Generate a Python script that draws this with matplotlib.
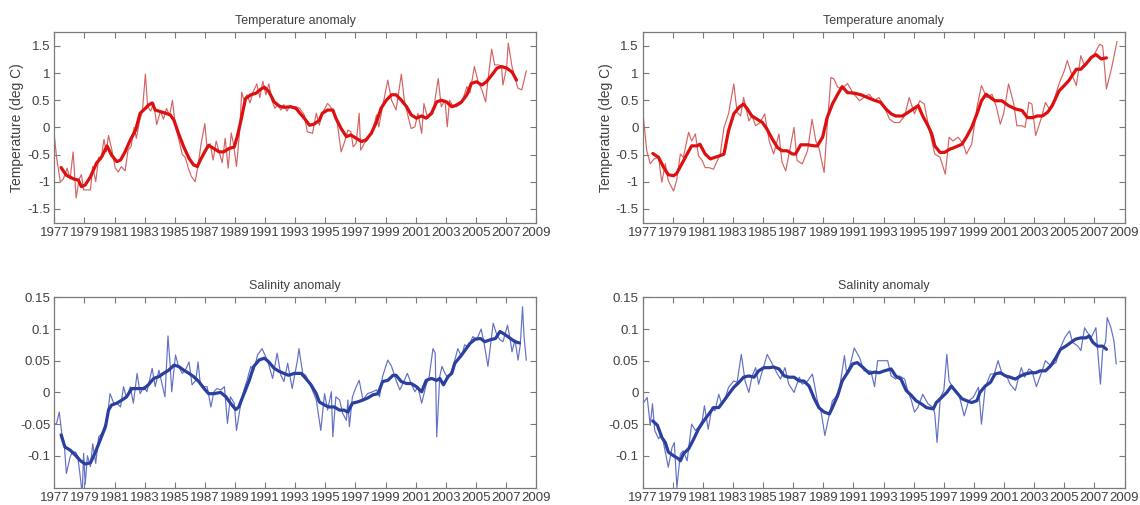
import matplotlib
matplotlib.use("Agg")
import matplotlib.pyplot as plt

plt.rcParams['font.family'] = ['Liberation Sans', 'DejaVu Sans']

# ---------------- data ----------------
year_ticks = list(range(1977, 2010, 2))
temp_ticks = [-1.5, -1.0, -0.5, 0.0, 0.5, 1.0, 1.5]
temp_tick_labels = ['-1.5', '-1', '-0.5', '0', '0.5', '1', '1.5']
sal_ticks = [-0.1, -0.05, 0.0, 0.05, 0.1, 0.15]
sal_tick_labels = ['-0.1', '-0.05', '0', '0.05', '0.1', '0.15']

# Temperature anomaly, left column
tl_raw_t = [1977.00, 1977.15, 1977.40, 1977.60, 1977.85, 1978.05, 1978.25, 1978.45, 1978.65, 1978.80,
            1978.95, 1979.20, 1979.40, 1979.55, 1979.75, 1979.95, 1980.10, 1980.30, 1980.45, 1980.60,
            1980.80, 1981.05, 1981.25, 1981.45, 1981.70, 1981.90, 1982.10, 1982.30, 1982.45, 1982.65,
            1982.85, 1983.05, 1983.20, 1983.40, 1983.60, 1983.80, 1984.05, 1984.25, 1984.45, 1984.65,
            1984.85, 1985.05, 1985.25, 1985.50, 1985.70, 1985.90, 1986.10, 1986.35, 1986.55, 1986.75,
            1987.00, 1987.15, 1987.35, 1987.55, 1987.75, 1987.95, 1988.15, 1988.35, 1988.55, 1988.75,
            1988.90, 1989.10, 1989.30, 1989.45, 1989.60, 1989.80, 1990.00, 1990.20, 1990.45, 1990.65,
            1990.85, 1991.05, 1991.25, 1991.45, 1991.65, 1991.85, 1992.05, 1992.25, 1992.45, 1992.65,
            1992.85, 1993.05, 1993.30, 1993.60, 1993.80, 1994.15, 1994.40, 1994.60, 1994.80, 1995.15,
            1995.35, 1995.60, 1995.80, 1996.05, 1996.25, 1996.50, 1996.70, 1996.85, 1997.05, 1997.25,
            1997.35, 1997.60, 1997.80, 1998.15, 1998.40, 1998.55, 1998.80, 1999.15, 1999.40, 1999.70,
            2000.05, 2000.25, 2000.50, 2000.70, 2000.95, 2001.15, 2001.40, 2001.55, 2001.80, 2002.15,
            2002.50, 2002.70, 2002.95, 2003.10, 2003.25, 2003.50, 2003.70, 2004.05, 2004.40, 2004.60,
            2004.90, 2005.15, 2005.40, 2005.65, 2005.80, 2006.05, 2006.25, 2006.50, 2006.70, 2006.80,
            2007.05, 2007.15, 2007.40, 2007.60, 2007.80, 2008.05, 2008.35]
tl_raw_v = [-0.15, -0.55, -1.00, -0.95, -0.75, -0.95, -0.45, -1.30, -0.95, -0.87,
            -1.15, -1.15, -1.15, -0.72, -1.00, -0.55, -0.60, -0.22, -0.45, -0.15,
            -0.38, -0.75, -0.82, -0.72, -0.80, -0.42, -0.35, 0.00, -0.20, 0.10,
            0.30, 0.98, 0.38, 0.30, 0.45, 0.05, 0.30, 0.15, 0.35, 0.22,
            0.50, 0.00, -0.20, -0.50, -0.55, -0.75, -0.90, -1.00, -0.70, -0.30,
            0.07, -0.40, -0.30, -0.60, -0.25, -0.45, -0.65, -0.20, -0.75, -0.10,
            -0.30, -0.72, -0.10, 0.65, 0.50, 0.60, 0.45, 0.65, 0.80, 0.55,
            0.85, 0.60, 0.80, 0.50, 0.35, 0.42, 0.32, 0.42, 0.30, 0.40,
            0.38, 0.38, 0.35, 0.23, -0.08, -0.11, 0.26, 0.04, 0.26, 0.44,
            0.38, 0.23, 0.07, -0.45, -0.29, -0.05, -0.08, -0.36, -0.29, 0.26,
            -0.42, -0.29, -0.23, -0.05, 0.23, 0.01, 0.38, 0.87, 0.50, 0.32,
            0.98, 0.50, 0.20, -0.02, 0.01, 0.26, -0.11, 0.44, 0.17, 0.26,
            0.90, 0.38, 0.50, 0.01, 0.50, 0.38, 0.38, 0.44, 0.75, 0.63,
            1.12, 0.84, 0.69, 0.47, 0.87, 1.44, 1.15, 1.15, 1.12, 0.78,
            1.12, 1.55, 1.12, 0.90, 0.72, 0.69, 1.04]
tl_smooth_t = [1977.45, 1977.80, 1978.30, 1978.60, 1978.80, 1979.05, 1979.40, 1979.80, 1980.15, 1980.50,
               1980.80, 1981.15, 1981.40, 1981.70, 1982.05, 1982.40, 1982.70, 1983.05, 1983.25, 1983.50,
               1983.70, 1984.05, 1984.40, 1984.70, 1984.95, 1985.25, 1985.60, 1985.95, 1986.25, 1986.50,
               1986.70, 1987.05, 1987.25, 1987.60, 1987.95, 1988.25, 1988.60, 1988.95, 1989.15, 1989.40,
               1989.70, 1990.05, 1990.40, 1990.70, 1990.95, 1991.25, 1991.60, 1991.95, 1992.25, 1992.70,
               1993.05, 1993.35, 1993.60, 1993.95, 1994.25, 1994.60, 1994.80, 1995.15, 1995.50, 1995.70,
               1996.05, 1996.40, 1996.70, 1997.05, 1997.40, 1997.70, 1998.05, 1998.40, 1998.70, 1999.05,
               1999.40, 1999.70, 2000.05, 2000.40, 2000.70, 2001.05, 2001.40, 2001.70, 2002.05, 2002.40,
               2002.70, 2003.05, 2003.40, 2003.70, 2004.05, 2004.40, 2004.70, 2005.05, 2005.40, 2005.70,
               2006.05, 2006.40, 2006.70, 2007.05, 2007.40, 2007.70]
tl_smooth_v = [-0.74, -0.88, -0.95, -0.97, -1.09, -1.06, -0.91, -0.66, -0.54, -0.34,
               -0.51, -0.63, -0.60, -0.45, -0.23, -0.05, 0.26, 0.35, 0.41, 0.45,
               0.32, 0.29, 0.26, 0.23, 0.13, -0.11, -0.36, -0.57, -0.69, -0.72,
               -0.60, -0.42, -0.33, -0.39, -0.45, -0.45, -0.39, -0.36, -0.17, 0.13,
               0.53, 0.60, 0.63, 0.70, 0.74, 0.66, 0.47, 0.39, 0.37, 0.38,
               0.35, 0.25, 0.17, 0.04, 0.06, 0.13, 0.26, 0.32, 0.32, 0.17,
               -0.02, -0.17, -0.14, -0.20, -0.26, -0.23, -0.11, 0.10, 0.35, 0.50,
               0.60, 0.60, 0.50, 0.38, 0.23, 0.17, 0.21, 0.17, 0.26, 0.47,
               0.50, 0.47, 0.38, 0.41, 0.47, 0.60, 0.81, 0.84, 0.78, 0.84,
               0.96, 1.09, 1.12, 1.09, 1.02, 0.87]

# Temperature anomaly, right column
tr_raw_t = [1977.00, 1977.27, 1977.50, 1977.75, 1978.05, 1978.27, 1978.50, 1978.70, 1979.05, 1979.25,
            1979.50, 1979.70, 1980.05, 1980.25, 1980.50, 1980.70, 1980.95, 1981.15, 1981.40, 1981.70,
            1982.15, 1982.40, 1982.70, 1983.05, 1983.27, 1983.50, 1983.70, 1984.05, 1984.27, 1984.50,
            1984.80, 1985.10, 1985.40, 1985.70, 1986.05, 1986.25, 1986.50, 1986.80, 1987.05, 1987.25,
            1987.60, 1987.95, 1988.25, 1988.50, 1988.70, 1989.05, 1989.25, 1989.50, 1989.70, 1989.95,
            1990.25, 1990.60, 1990.95, 1991.40, 1991.70, 1992.05, 1992.37, 1992.70, 1993.05, 1993.40,
            1993.70, 1994.05, 1994.40, 1994.70, 1995.05, 1995.40, 1995.70, 1996.05, 1996.40, 1996.75,
            1997.10, 1997.35, 1997.60, 1997.95, 1998.30, 1998.50, 1998.85, 1999.20, 1999.50, 1999.85,
            2000.20, 2000.50, 2000.75, 2000.97, 2001.30, 2001.65, 2001.85, 2002.20, 2002.40, 2002.65,
            2002.85, 2003.10, 2003.45, 2003.75, 2004.00, 2004.30, 2004.65, 2005.00, 2005.20, 2005.45,
            2005.80, 2006.10, 2006.35, 2006.70, 2007.00, 2007.35, 2007.55, 2007.80, 2008.15, 2008.50]
tr_raw_v = [0.31, -0.43, -0.67, -0.58, -0.55, -1.01, -0.67, -0.98, -1.17, -0.98,
            -0.49, -0.55, -0.09, -0.25, -0.12, -0.52, -0.61, -0.74, -0.74, -0.77,
            -0.49, 0.00, 0.25, 0.80, 0.28, 0.21, 0.55, 0.12, 0.21, 0.03,
            0.09, 0.25, -0.25, -0.49, -0.12, -0.64, -0.80, -0.37, 0.00, -0.61,
            -0.67, -0.43, 0.15, -0.25, -0.37, -0.83, 0.00, 0.92, 0.89, 0.74,
            0.71, 0.81, 0.64, 0.49, 0.55, 0.61, 0.49, 0.55, 0.37, 0.15,
            0.09, 0.09, 0.21, 0.55, 0.25, 0.49, 0.43, -0.06, -0.49, -0.55,
            -0.86, -0.18, -0.25, -0.18, -0.31, -0.49, -0.31, 0.37, 0.77, 0.55,
            0.61, 0.37, 0.06, 0.25, 0.80, 0.43, 0.03, 0.03, 0.00, 0.46,
            0.43, -0.15, 0.15, 0.46, 0.34, 0.49, 0.80, 1.04, 1.23, 1.01,
            0.77, 1.32, 1.13, 1.23, 1.35, 1.53, 1.50, 0.71, 1.10, 1.58]
tr_smooth_t = [1977.67, 1978.05, 1978.40, 1978.70, 1979.05, 1979.25, 1979.60, 1979.95, 1980.25, 1980.60,
               1980.80, 1981.15, 1981.50, 1981.80, 1982.15, 1982.40, 1982.70, 1983.05, 1983.40, 1983.70,
               1983.95, 1984.25, 1984.60, 1984.95, 1985.25, 1985.60, 1985.95, 1986.25, 1986.60, 1986.95,
               1987.15, 1987.50, 1987.95, 1988.40, 1988.60, 1988.95, 1989.25, 1989.60, 1989.95, 1990.25,
               1990.60, 1991.05, 1991.50, 1991.93, 1992.37, 1992.80, 1993.15, 1993.50, 1993.80, 1994.25,
               1994.70, 1995.30, 1995.60, 1995.95, 1996.20, 1996.40, 1996.75, 1997.05, 1997.40, 1997.70,
               1998.20, 1998.50, 1998.85, 1999.20, 1999.50, 1999.80, 2000.10, 2000.40, 2000.85, 2001.30,
               2001.75, 2002.20, 2002.55, 2002.90, 2003.20, 2003.55, 2003.90, 2004.20, 2004.65, 2005.00,
               2005.30, 2005.80, 2006.10, 2006.45, 2006.80, 2007.10, 2007.45, 2007.80]
tr_smooth_v = [-0.48, -0.55, -0.74, -0.87, -0.89, -0.85, -0.67, -0.49, -0.34, -0.34,
               -0.31, -0.49, -0.58, -0.55, -0.52, -0.49, -0.06, 0.25, 0.37, 0.43,
               0.34, 0.21, 0.15, 0.09, -0.03, -0.21, -0.37, -0.43, -0.43, -0.49,
               -0.49, -0.32, -0.32, -0.34, -0.34, -0.18, 0.18, 0.43, 0.61, 0.75,
               0.64, 0.63, 0.60, 0.55, 0.50, 0.46, 0.34, 0.25, 0.21, 0.21,
               0.29, 0.40, 0.21, 0.03, -0.12, -0.34, -0.46, -0.46, -0.40, -0.37,
               -0.31, -0.18, 0.00, 0.25, 0.49, 0.61, 0.55, 0.49, 0.49, 0.40,
               0.34, 0.31, 0.18, 0.18, 0.21, 0.21, 0.28, 0.40, 0.67, 0.77,
               0.86, 1.07, 1.07, 1.17, 1.29, 1.34, 1.26, 1.28]

# Salinity anomaly, left column
bl_raw_t = [1977.00, 1977.15, 1977.33, 1977.50, 1977.65, 1977.80, 1978.05, 1978.20, 1978.40, 1978.55,
            1978.70, 1978.85, 1978.95, 1979.05, 1979.20, 1979.40, 1979.55, 1979.75, 1979.95, 1980.15,
            1980.40, 1980.55, 1980.70, 1980.95, 1981.15, 1981.40, 1981.60, 1981.80, 1982.05, 1982.25,
            1982.50, 1982.70, 1982.95, 1983.15, 1983.50, 1983.70, 1983.95, 1984.15, 1984.35, 1984.55,
            1984.70, 1984.80, 1985.05, 1985.25, 1985.50, 1985.70, 1985.95, 1986.15, 1986.40, 1986.55,
            1986.70, 1986.95, 1987.15, 1987.40, 1987.60, 1987.80, 1988.05, 1988.30, 1988.50, 1988.70,
            1988.95, 1989.10, 1989.35, 1989.60, 1989.80, 1990.05, 1990.25, 1990.50, 1990.80, 1991.05,
            1991.25, 1991.50, 1991.80, 1992.05, 1992.25, 1992.50, 1992.80, 1993.15, 1993.25, 1993.50,
            1993.70, 1994.05, 1994.40, 1994.60, 1994.70, 1994.95, 1995.15, 1995.40, 1995.50, 1995.70,
            1995.95, 1996.15, 1996.40, 1996.50, 1996.60, 1996.80, 1997.05, 1997.25, 1997.50, 1997.80,
            1998.15, 1998.40, 1998.60, 1998.80, 1999.15, 1999.40, 1999.70, 1999.95, 2000.15, 2000.45,
            2000.70, 2000.95, 2001.15, 2001.40, 2001.70, 2001.90, 2002.15, 2002.30, 2002.40, 2002.60,
            2002.75, 2002.95, 2003.15, 2003.40, 2003.60, 2003.80, 2004.05, 2004.25, 2004.50, 2004.80,
            2005.05, 2005.35, 2005.55, 2005.80, 2006.15, 2006.40, 2006.60, 2006.80, 2007.10, 2007.25,
            2007.40, 2007.60, 2007.80, 2007.95, 2008.10, 2008.20, 2008.35]
bl_raw_v = [-0.050, -0.049, -0.031, -0.065, -0.078, -0.128, -0.102, -0.094, -0.094, -0.100,
            -0.128, -0.160, -0.096, -0.145, -0.100, -0.117, -0.081, -0.112, -0.070, -0.065,
            -0.049, -0.033, -0.002, -0.017, -0.017, -0.023, 0.009, -0.009, 0.009, -0.017,
            0.030, -0.002, 0.009, 0.001, 0.038, 0.009, 0.035, 0.014, -0.007, 0.089,
            0.041, 0.001, 0.059, 0.041, 0.030, 0.035, 0.048, 0.012, 0.019, 0.048,
            0.012, 0.009, 0.009, -0.023, 0.001, 0.006, 0.004, 0.009, -0.049, -0.007,
            -0.017, -0.060, -0.023, 0.004, 0.019, 0.041, 0.035, 0.059, 0.069, 0.056,
            0.043, 0.022, 0.062, 0.027, 0.017, 0.046, 0.006, 0.051, 0.069, 0.030,
            0.027, 0.009, -0.012, -0.044, -0.060, -0.002, -0.028, 0.001, -0.070, -0.007,
            -0.012, -0.033, -0.044, -0.012, -0.054, -0.007, 0.009, 0.019, -0.012, -0.002,
            0.001, 0.004, -0.007, 0.025, 0.051, 0.041, 0.019, 0.004, 0.014, 0.030,
            0.014, 0.001, 0.009, -0.017, 0.012, 0.025, 0.069, 0.062, -0.070, 0.025,
            0.041, 0.030, 0.022, 0.035, 0.051, 0.069, 0.056, 0.075, 0.072, 0.088,
            0.083, 0.100, 0.077, 0.041, 0.109, 0.090, 0.083, 0.080, 0.106, 0.088,
            0.064, 0.083, 0.051, 0.075, 0.135, 0.088, 0.051]
bl_smooth_t = [1977.45, 1977.70, 1978.05, 1978.40, 1978.70, 1979.05, 1979.40, 1979.70, 1980.05, 1980.40,
               1980.60, 1980.80, 1981.15, 1981.50, 1981.80, 1982.15, 1982.50, 1982.95, 1983.25, 1983.60,
               1983.95, 1984.25, 1984.60, 1984.95, 1985.25, 1985.60, 1985.95, 1986.25, 1986.60, 1986.95,
               1987.25, 1987.60, 1988.05, 1988.40, 1988.70, 1989.05, 1989.25, 1989.60, 1989.95, 1990.25,
               1990.60, 1990.95, 1991.25, 1991.60, 1991.95, 1992.25, 1992.55, 1992.95, 1993.40, 1993.70,
               1994.05, 1994.40, 1994.60, 1994.95, 1995.25, 1995.60, 1995.95, 1996.25, 1996.50, 1996.80,
               1997.15, 1997.50, 1997.80, 1998.15, 1998.50, 1998.80, 1999.15, 1999.50, 1999.70, 2000.05,
               2000.40, 2000.70, 2001.05, 2001.40, 2001.70, 2002.05, 2002.40, 2002.60, 2002.85, 2003.15,
               2003.40, 2003.60, 2003.95, 2004.30, 2004.60, 2004.95, 2005.30, 2005.60, 2005.95, 2006.30,
               2006.60, 2006.95, 2007.30, 2007.60, 2007.90]
bl_smooth_v = [-0.067, -0.086, -0.091, -0.099, -0.107, -0.113, -0.111, -0.096, -0.075, -0.054,
               -0.028, -0.020, -0.017, -0.012, -0.007, 0.006, 0.006, 0.006, 0.012, 0.022,
               0.025, 0.030, 0.035, 0.043, 0.041, 0.035, 0.030, 0.025, 0.017, 0.006,
               -0.002, -0.002, 0.000, -0.007, -0.017, -0.027, -0.023, -0.002, 0.019, 0.041,
               0.051, 0.054, 0.048, 0.038, 0.033, 0.030, 0.027, 0.030, 0.030, 0.022,
               0.012, -0.002, -0.015, -0.020, -0.023, -0.023, -0.028, -0.028, -0.031, -0.017,
               -0.015, -0.012, -0.009, -0.004, -0.002, 0.017, 0.019, 0.027, 0.027, 0.017,
               0.014, 0.014, 0.009, 0.001, 0.019, 0.022, 0.019, 0.022, 0.012, 0.025,
               0.030, 0.046, 0.056, 0.067, 0.077, 0.084, 0.085, 0.080, 0.083, 0.085,
               0.096, 0.091, 0.085, 0.080, 0.078]

# Salinity anomaly, right column
br_raw_t = [1977.00, 1977.15, 1977.30, 1977.50, 1977.65, 1977.80, 1978.05, 1978.27, 1978.50, 1978.70,
            1978.95, 1979.10, 1979.27, 1979.50, 1979.70, 1979.95, 1980.25, 1980.50, 1980.70, 1980.95,
            1981.10, 1981.35, 1981.60, 1981.80, 1982.05, 1982.25, 1982.50, 1982.70, 1983.05, 1983.27,
            1983.55, 1983.80, 1984.05, 1984.27, 1984.50, 1984.70, 1984.95, 1985.27, 1985.60, 1985.95,
            1986.15, 1986.45, 1986.70, 1987.05, 1987.40, 1987.60, 1987.95, 1988.27, 1988.40, 1988.60,
            1988.85, 1989.10, 1989.40, 1989.60, 1989.80, 1990.05, 1990.40, 1990.55, 1990.80, 1991.05,
            1991.40, 1991.70, 1992.15, 1992.40, 1992.60, 1992.95, 1993.27, 1993.50, 1993.80, 1994.05,
            1994.40, 1994.60, 1994.85, 1995.05, 1995.27, 1995.60, 1995.95, 1996.30, 1996.40, 1996.55,
            1996.77, 1997.00, 1997.20, 1997.35, 1997.60, 1997.80, 1998.00, 1998.35, 1998.65, 1998.95,
            1999.30, 1999.50, 1999.75, 2000.10, 2000.35, 2000.60, 2000.85, 2001.20, 2001.40, 2001.75,
            2001.97, 2002.15, 2002.37, 2002.65, 2002.85, 2003.15, 2003.45, 2003.75, 2004.10, 2004.45,
            2004.75, 2005.05, 2005.35, 2005.55, 2005.90, 2006.10, 2006.35, 2006.55, 2006.80, 2007.10,
            2007.40, 2007.55, 2007.75, 2007.85, 2008.10, 2008.30, 2008.45]
br_raw_v = [-0.018, -0.013, -0.008, -0.052, -0.018, -0.060, -0.073, -0.066, -0.094, -0.118,
            -0.087, -0.079, -0.150, -0.097, -0.092, -0.108, -0.050, -0.060, -0.055, -0.045,
            -0.021, -0.058, -0.024, -0.029, -0.003, -0.018, -0.008, 0.008, 0.018, 0.016,
            0.060, 0.018, 0.000, 0.026, 0.039, 0.013, 0.034, 0.060, 0.045, 0.029,
            0.021, 0.039, 0.013, 0.000, 0.024, 0.013, 0.018, 0.029, 0.013, -0.013,
            -0.031, -0.068, -0.034, -0.013, -0.008, 0.003, 0.058, 0.029, 0.045, 0.070,
            0.055, 0.034, 0.034, 0.009, 0.050, 0.050, 0.050, 0.026, 0.021, 0.026,
            0.021, 0.003, -0.013, -0.031, -0.024, -0.003, -0.018, -0.024, -0.034, -0.079,
            -0.008, 0.003, 0.060, 0.018, 0.008, 0.000, -0.003, -0.037, -0.013, -0.008,
            0.008, -0.050, 0.008, 0.029, 0.029, 0.050, 0.031, 0.024, 0.013, 0.003,
            0.024, 0.039, 0.024, 0.037, 0.034, 0.009, 0.029, 0.050, 0.042, 0.047,
            0.071, 0.087, 0.097, 0.079, 0.073, 0.066, 0.102, 0.094, 0.087, 0.102,
            0.013, 0.066, 0.081, 0.118, 0.102, 0.081, 0.045]
br_smooth_t = [1977.67, 1977.98, 1978.27, 1978.50, 1978.70, 1979.05, 1979.40, 1979.50, 1979.70, 1980.05,
               1980.40, 1980.70, 1981.05, 1981.40, 1981.70, 1982.05, 1982.40, 1982.70, 1983.05, 1983.40,
               1983.70, 1984.05, 1984.40, 1984.70, 1985.05, 1985.40, 1985.70, 1986.05, 1986.40, 1986.70,
               1987.05, 1987.40, 1987.70, 1988.05, 1988.40, 1988.70, 1989.05, 1989.40, 1989.60, 1989.95,
               1990.25, 1990.60, 1990.95, 1991.25, 1991.60, 1992.05, 1992.40, 1992.70, 1993.05, 1993.50,
               1993.80, 1994.15, 1994.50, 1994.85, 1995.15, 1995.50, 1995.85, 1996.30, 1996.50, 1996.85,
               1997.20, 1997.50, 1997.85, 1998.20, 1998.50, 1998.85, 1999.20, 1999.40, 1999.75, 2000.10,
               2000.40, 2000.75, 2001.10, 2001.40, 2001.75, 2002.10, 2002.40, 2002.75, 2003.10, 2003.40,
               2003.75, 2004.10, 2004.45, 2004.75, 2005.10, 2005.45, 2005.75, 2006.10, 2006.45, 2006.65,
               2006.90, 2007.20, 2007.55, 2007.80]
br_smooth_v = [-0.045, -0.052, -0.071, -0.079, -0.094, -0.100, -0.105, -0.108, -0.097, -0.089,
               -0.073, -0.058, -0.045, -0.034, -0.024, -0.024, -0.013, -0.003, 0.008, 0.016,
               0.024, 0.026, 0.024, 0.034, 0.039, 0.039, 0.040, 0.037, 0.026, 0.024,
               0.024, 0.018, 0.018, 0.010, -0.010, -0.024, -0.031, -0.034, -0.024, -0.005,
               0.018, 0.031, 0.045, 0.047, 0.040, 0.030, 0.032, 0.031, 0.034, 0.037,
               0.026, 0.021, 0.003, -0.005, -0.013, -0.018, -0.024, -0.026, -0.016, -0.008,
               0.000, 0.010, 0.000, -0.010, -0.013, -0.016, -0.013, 0.000, 0.010, 0.016,
               0.029, 0.031, 0.026, 0.024, 0.021, 0.026, 0.029, 0.031, 0.031, 0.034,
               0.034, 0.042, 0.055, 0.068, 0.073, 0.079, 0.084, 0.086, 0.086, 0.089,
               0.079, 0.073, 0.073, 0.068]

# ---------------- drawing ----------------
RED_THIN, RED_THICK = '#d46464', '#dd0f0f'
BLUE_THIN, BLUE_THICK = '#6270c6', '#2a3f9e'
FRAME = '#7a7a7a'
TEXT = '#404040'

fig = plt.figure(figsize=(11.4, 5.05), dpi=100)
fig.patch.set_facecolor('white')

col_x = [54.3 / 1140, 642.7 / 1140]
ax_w = 481.8 / 1140
row_y = [(505 - 222.5) / 505, (505 - 487.5) / 505]
ax_h = 190.2 / 505

panels = [
    (0, 0, tl_raw_t, tl_raw_v, tl_smooth_t, tl_smooth_v, 'temp'),
    (0, 1, tr_raw_t, tr_raw_v, tr_smooth_t, tr_smooth_v, 'temp'),
    (1, 0, bl_raw_t, bl_raw_v, bl_smooth_t, bl_smooth_v, 'sal'),
    (1, 1, br_raw_t, br_raw_v, br_smooth_t, br_smooth_v, 'sal'),
]

for row, col, rt, rv, st, sv, kind in panels:
    ax = fig.add_axes([col_x[col], row_y[row], ax_w, ax_h])
    if kind == 'temp':
        thin, thick = RED_THIN, RED_THICK
    else:
        thin, thick = BLUE_THIN, BLUE_THICK
    ax.plot(rt, rv, color=thin, lw=0.85, zorder=2)
    ax.plot(st, sv, color=thick, lw=2.3, zorder=3, solid_capstyle='round')

    ax.set_xlim(1977, 2009)
    ax.set_xticks(year_ticks)
    ax.set_xticklabels([str(y) for y in year_ticks])
    if kind == 'temp':
        ax.set_ylim(-1.75, 1.75)
        ax.set_yticks(temp_ticks)
        ax.set_yticklabels(temp_tick_labels)
        ax.set_title('Temperature anomaly', fontsize=9, color=TEXT, pad=6)
        ax.set_ylabel('Temperature (deg C)', fontsize=10, color=TEXT, labelpad=2)
    else:
        ax.set_ylim(-0.15, 0.15)
        ax.set_yticks(sal_ticks)
        ax.set_yticklabels(sal_tick_labels)
        ax.set_title('Salinity anomaly', fontsize=9, color=TEXT, pad=6)

    ax.tick_params(direction='in', top=True, right=True, length=4, width=0.8,
                   color=FRAME, labelcolor=TEXT, labelsize=9.5, pad=3)
    for sp in ax.spines.values():
        sp.set_color(FRAME)
        sp.set_linewidth(0.9)

fig.savefig('out.png', dpi=100, facecolor='white')
